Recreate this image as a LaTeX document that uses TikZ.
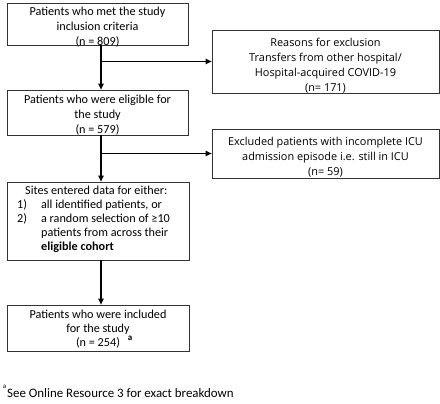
\documentclass[tikz,border=0pt]{standalone}
\usepackage{fontspec}
\setmainfont{Carlito}
\newfontfamily\rfont{Open Sans}
\usetikzlibrary{arrows.meta}
\tikzset{
  frame/.style={draw=black!80, line width=0.8pt, inner sep=0pt},
  txt/.style={align=center, inner sep=0pt, font=\fontsize{12.2}{15}\selectfont},
  rtxt/.style={txt, font=\rfont\fontsize{10.9}{15}\selectfont},
  arr/.style={line width=1.2pt, -{Triangle[length=6pt,width=5.5pt]}},
}
\begin{document}
\begin{tikzpicture}[x=1pt,y=-1pt]
\useasboundingbox (0,0) rectangle (440,404);
% left column
\node[frame, minimum width=181pt, minimum height=42pt] (b1) at (97.5,24) {};
\node[txt] (b1t) at (97.5,27)
  {Patients who met the study\\inclusion criteria\\(n = 809)};
\node[frame, minimum width=181pt, minimum height=45pt] (b2) at (97.5,112.5) {};
\node[txt] (b2t) at (97.5,115.5)
  {Patients who were eligible for\\the study\\(n = 579)};
\node[frame, minimum width=182pt, minimum height=78pt] (b3) at (98,221) {};
\node[anchor=west, font=\fontsize{12.2}{14}\selectfont, align=left, inner sep=0pt] (b3t) at (17,219.5)
  {\hspace*{8pt}Sites entered data for either:\\
   1)\hspace{14pt}all identified patients, or\\
   2)\hspace{14pt}a random selection of ≥10\\
   \hspace*{24pt}patients from across their\\
   \hspace*{24pt}\textbf{eligible cohort}};
\node[frame, minimum width=182pt, minimum height=46pt] (b4) at (98,328) {};
\node[txt, font=\fontsize{12.2}{14}\selectfont] (b4t) at (98,329)
  {Patients who were included\\for the study\\(n = 254)};
\node[font=\fontsize{9}{9}\selectfont\bfseries, inner sep=0pt] (sup) at (130,338) {a};
% right column
\node[frame, minimum width=227pt, minimum height=63pt] (r1) at (325.5,61.5) {};
\node[rtxt] (r1t) at (325.5,65.5)
  {Reasons for exclusion\\Transfers from other hospital/\\Hospital-acquired COVID-19\\(n= 171)};
\node[frame, minimum width=227pt, minimum height=49pt] (r2) at (325.5,153.5) {};
\node[rtxt] (r2t) at (325.5,157.5)
  {Excluded patients with incomplete ICU\\admission episode i.e. still in ICU\\(n= 59)};
% footnote
\node[anchor=west, inner sep=0pt, font=\fontsize{12.9}{14}\selectfont] (fn) at (7,393)
  {See Online Resource 3 for exact breakdown};
\node[anchor=east, inner sep=0pt, font=\fontsize{7}{7}\selectfont] (fna) at (6.5,387) {a};
% connectors
\coordinate (ax) at (101,0);
\draw[arr] (b1.south -| ax) -- (b2.north -| ax);
\draw[arr] (b2.south -| ax) -- (b3.north -| ax);
\draw[arr] (b3.south -| ax) -- (b4.north -| ax);
\draw[arr] (ax |- r1.west) -- (r1.west);
\draw[arr] (ax |- r2.west) -- (r2.west);
\end{tikzpicture}
\end{document}
